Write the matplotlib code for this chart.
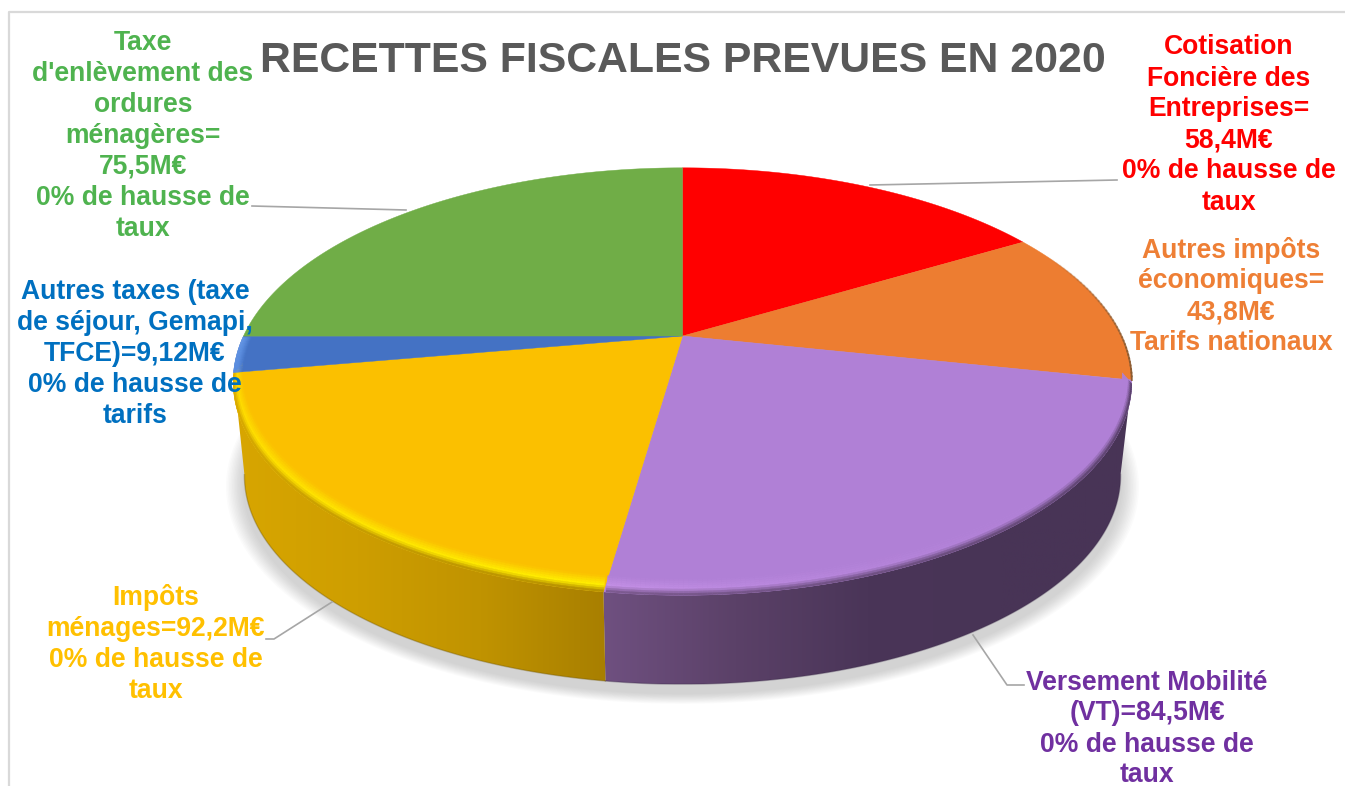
#!/usr/bin/env python3
import matplotlib
matplotlib.use("Agg")
import matplotlib.pyplot as plt
import numpy as np
from matplotlib.collections import PolyCollection
from matplotlib.colors import LinearSegmentedColormap, to_rgb
from matplotlib.patches import Polygon

plt.rcParams["font.family"] = ["Liberation Sans", "DejaVu Sans"]

# clockwise from 12 o'clock
names = ["CFE", "Autres impots", "VT", "Menages", "Autres taxes", "TEOM"]
# sizes (M euros), the yellow and green labels look swapped
slice_values = [59.9, 43.0, 87.1, 72.6, 10.0, 90.9]
face_colors = ["#FF0000", "#ED7D31", "#B080D6", "#FBC000", "#4472C4", "#70AD47"]

labels = [
    "Cotisation\nFoncière des\nEntreprises=\n58,4M€\n0% de hausse de\ntaux",
    "Autres impôts\néconomiques=\n43,8M€\nTarifs nationaux",
    "Versement Mobilité\n(VT)=84,5M€\n0% de hausse de\ntaux",
    "Impôts\nménages=92,2M€\n0% de hausse de\ntaux",
    "Autres taxes (taxe\nde séjour, Gemapi,\nTFCE)=9,12M€\n0% de hausse de\ntarifs",
    "Taxe\nd'enlèvement des\nordures\nménagères=\n75,5M€\n0% de hausse de\ntaux",
]
label_colors = ["#FF0000", "#EE7F35", "#7030A0", "#FFC000", "#0070C0", "#4FB34F"]
label_xy = [(1229, 125), (1231, 296.5), (1147, 729), (156, 644), (135, 354), (143, 136)]

title = "RECETTES FISCALES PREVUES EN 2020"

leaders = [
    ([870, 1117], [185, 180]),
    ([252, 406], [206, 210]),
    ([266, 274, 332], [639, 639, 602]),
    ([1024, 1007, 973], [685, 685, 635]),
]

# pie geometry in pixels, k is the perspective
CX, CY, RX, RY, K = 682.5, 336, 439, 204, 0.213
BOTTOM_CY, BOTTOM_S = 431.5, 0.975


def top_rim(theta, r=1.0):
    t = np.radians(theta)
    u, v = r * np.sin(t), r * np.cos(t)
    w = 1 + K * v
    return CX + RX * u / w, CY - RY * v / w


def bottom_rim(theta):
    t = np.radians(theta)
    u, v = np.sin(t), np.cos(t)
    w = 1 + K * v
    return CX + BOTTOM_S * RX * u / w, BOTTOM_CY - BOTTOM_S * RY * v / w


def lerp(a, b, t):
    return tuple((1 - t) * np.array(to_rgb(a)) + t * np.array(to_rgb(b)))


fig = plt.figure(figsize=(13.45, 7.86), dpi=100)
ax = fig.add_axes([0, 0, 1, 1])
ax.axis("off")

angles = np.cumsum([0] + slice_values) / np.sum(slice_values) * 360

# frame of the original chart area
ax.plot([9, 9, 1345], [786, 12, 12], color="#D9D9D9", lw=1.6, zorder=1)

# soft shadow under the pie
th = np.linspace(0, 360, 361)
for i in range(12):
    bx, by = bottom_rim(th)
    grow = 1 + 0.0035 * (12 - i)
    sx = CX + (bx - CX) * grow
    sy = BOTTOM_CY + 9 + (by - BOTTOM_CY) * grow
    ax.fill(sx, sy, color="#808080", alpha=0.03, lw=0, zorder=2)

# side walls, only purple and yellow really show
wall_cols = {
    2: ("#6F5080", "#5B4168", "#4A3558", "#483456", "#483456"),
    3: ("#D8A600", "#CE9E00", "#C09300", "#A87F00"),
}
wall_edge = {2: "#3A2A48", 3: "#6B5200"}
for i, cols in wall_cols.items():
    th_top = np.linspace(angles[i], angles[i + 1], 200)
    th_bot = np.linspace(angles[i], min(angles[i + 1], 258), 200)
    tx, ty = top_rim(th_top)
    bx, by = bottom_rim(th_bot)
    px = np.concatenate([tx, bx[::-1]])
    py = np.concatenate([ty, by[::-1]])
    # gradient runs along x, dark side towards the right
    x0, x1 = px.min(), px.max()
    cmap = LinearSegmentedColormap.from_list("w%d" % i, cols)
    grad = np.linspace(0, 1, 256)[None, :]
    if i == 2:
        x1 = 1132
    im = ax.imshow(grad, cmap=cmap, extent=(x0, x1, py.max(), py.min()), aspect="auto", zorder=3)
    im.set_clip_path(Polygon(np.c_[px, py], transform=ax.transData))
    ax.plot(bx, by, color=wall_edge[i], lw=1.0, alpha=0.35, zorder=3.5)

# top faces
for i, col in enumerate(face_colors):
    th = np.linspace(angles[i], angles[i + 1], 200)
    tx, ty = top_rim(th)
    ax.fill(np.r_[CX, tx], np.r_[CY, ty], color=col, lw=0.3, zorder=4)

# bevel along the front rim: inner colour, highlight, then wall colour
bevel_ends = {
    # slice: (mid at start, outer at start, mid at end, outer at end)
    2: ("#B080D6", "#483456", "#C490E6", "#6F5080"),
    3: ("#FFF000", "#A88000", "#FFDC00", "#D8A600"),
    4: ("#5B8EE0", "#5B8EE0", "#5B8EE0", "#6A9AE8"),
}
levels = np.linspace(0, 1, 9)
for i, (m0, o0, m1, o1) in bevel_ends.items():
    polys, cols = [], []
    ths = np.arange(angles[i], angles[i + 1] + 0.01, 0.5)
    if i == 2:
        ths = np.arange(angles[i] + 1, angles[i + 1] + 0.01, 0.5)
    for a, b in zip(ths[:-1], ths[1:]):
        f = (a - ths[0]) / max(ths[-1] - ths[0], 1)
        # purple only gets its highlight near the yellow slice
        g = f ** 3 if i == 2 else f
        mid, out = lerp(m0, m1, g), lerp(o0, o1, f)
        for t0, t1 in zip(levels[:-1], levels[1:]):
            ia = top_rim(a, 0.98)
            ib = top_rim(b, 0.98)
            oa = top_rim(a)
            ob = top_rim(b)
            shift = 10
            if i == 4:
                shift = 0
            ia = (ia[0], ia[1] - shift)
            ib = (ib[0], ib[1] - shift)
            q = []
            for (pi, po, t) in [(ia, oa, t0), (ib, ob, t0), (ib, ob, t1), (ia, oa, t1)]:
                q.append((pi[0] + (po[0] - pi[0]) * t, pi[1] + (po[1] - pi[1]) * t))
            polys.append(q)
            tm = (t0 + t1) / 2
            if tm < 0.6:
                cols.append(lerp(face_colors[i], mid, tm / 0.6))
            else:
                cols.append(lerp(mid, out, (tm - 0.6) / 0.4))
    ax.add_collection(PolyCollection(polys, facecolors=cols, edgecolors=cols, linewidths=0.3, zorder=5))

# thin dark edge on the orange slice, fading in
th = np.linspace(angles[1] + 5, angles[2], 40)
tx, ty = top_rim(th)
for j in range(len(th) - 1):
    ax.plot(tx[j:j + 2], ty[j:j + 2], color="#8A5A30", lw=1.3, alpha=j / 39, zorder=5)

for lx, ly in leaders:
    ax.plot(lx, ly, color="#A6A6A6", lw=1.2, zorder=6)

ax.text(683, 61, title, ha="center", va="center", fontsize=30.8, fontweight="bold", color="#595959", zorder=7)

for lab, col, (x, y) in zip(labels, label_colors, label_xy):
    ax.text(x, y, lab, ha="center", va="center", fontsize=19.1, fontweight="bold", color=col,
            linespacing=1.25, multialignment="center", zorder=8)

ax.set_xlim(0, 1345)
ax.set_ylim(786, 0)
fig.savefig("out.png", dpi=100, facecolor="white")
